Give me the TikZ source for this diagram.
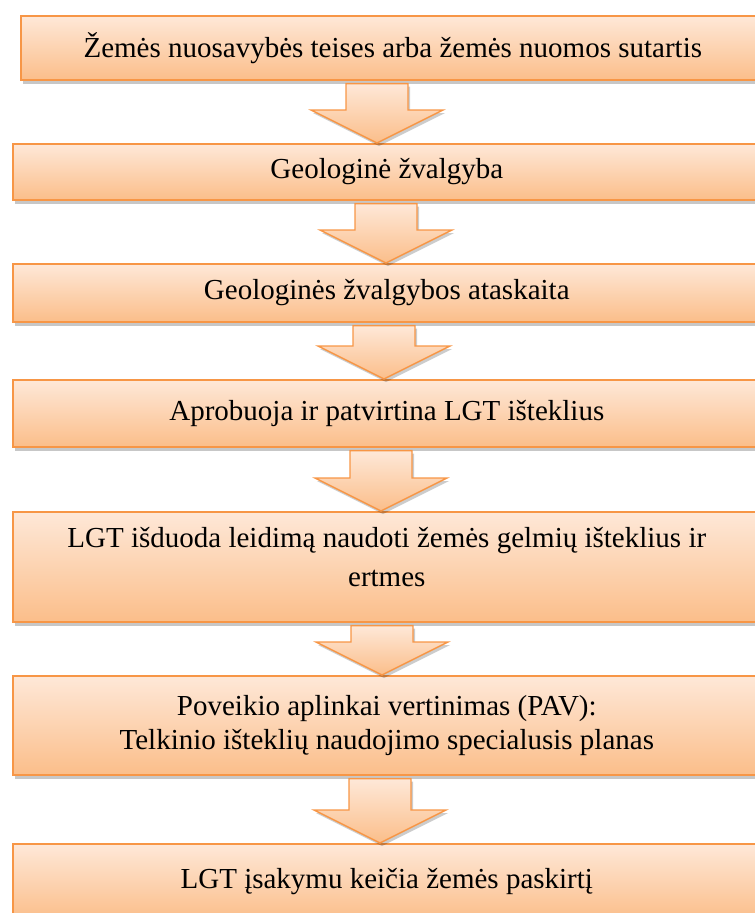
\documentclass[tikz,border=0pt]{standalone}
\usepackage{fontspec}
\setmainfont{Liberation Serif}
\usetikzlibrary{calc,shadows}
\definecolor{boxtop}{HTML}{FEE8D8}
\definecolor{boxbot}{HTML}{FBBE8A}
\definecolor{boxline}{HTML}{F79646}
\tikzset{
    flowbox/.style={draw=boxline, line width=1.6pt, top color=boxtop, bottom color=boxbot,
        anchor=north west, align=center, inner sep=0pt,
        font=\fontsize{29}{36}\selectfont,
        drop shadow={shadow xshift=2pt, shadow yshift=-4pt, opacity=0.22, fill=black}},
    flowarrow/.style={draw=boxline, line width=1.4pt, top color=boxtop, bottom color=boxbot,
        line join=miter,
        drop shadow={shadow xshift=2pt, shadow yshift=-3pt, opacity=0.2, fill=black}}
}
\newcommand{\downarrowblock}[3]{
  \path[flowarrow] let \p1=(#1.south), \p2=(#2.north) in
      (#3pt-31pt,\y1-3pt) -- (#3pt+31pt,\y1-3pt) -- (#3pt+31pt,\y2+33pt)
      -- (#3pt+66pt,\y2+33pt) -- (#3pt,\y2) -- (#3pt-66pt,\y2+33pt)
      -- (#3pt-31pt,\y2+33pt) -- cycle;
}
\begin{document}
\begin{tikzpicture}[x=1pt,y=-1pt]
    \useasboundingbox (0,0) rectangle (755,913);

    \node[flowbox, minimum width=744pt, minimum height=64pt] (b1) at (20,15)
        {Žemės nuosavybės teises arba žemės nuomos sutartis};
    \node[flowbox, minimum width=748pt, minimum height=56pt] (b2) at (12,143)
        {Geologinė žvalgyba};
    \node[flowbox, minimum width=748pt, minimum height=58pt] (b3) at (12,263)
        {Geologinės žvalgybos ataskaita};
    \node[flowbox, minimum width=748pt, minimum height=67pt] (b4) at (12,379)
        {Aprobuoja ir patvirtina LGT išteklius};
    \node[flowbox, minimum width=748pt, minimum height=110pt] (b5) at (12,511)
        {LGT išduoda leidimą naudoti žemės gelmių išteklius ir\\[3pt] ertmes\\[-16pt]};
    \node[flowbox, minimum width=748pt, minimum height=99pt,
          font=\fontsize{29}{34}\selectfont] (b6) at (12,675)
        {Poveikio aplinkai vertinimas (PAV):\\ Telkinio išteklių naudojimo specialusis planas};
    \node[flowbox, minimum width=748pt, minimum height=76pt] (b7) at (12,843)
        {LGT įsakymu keičia žemės paskirtį};

    % block arrows between the steps
    \downarrowblock{b1}{b2}{377}
    \downarrowblock{b2}{b3}{386}
    \downarrowblock{b3}{b4}{384}
    \downarrowblock{b4}{b5}{381}
    \downarrowblock{b5}{b6}{382}
    \downarrowblock{b6}{b7}{380}
\end{tikzpicture}
\end{document}
